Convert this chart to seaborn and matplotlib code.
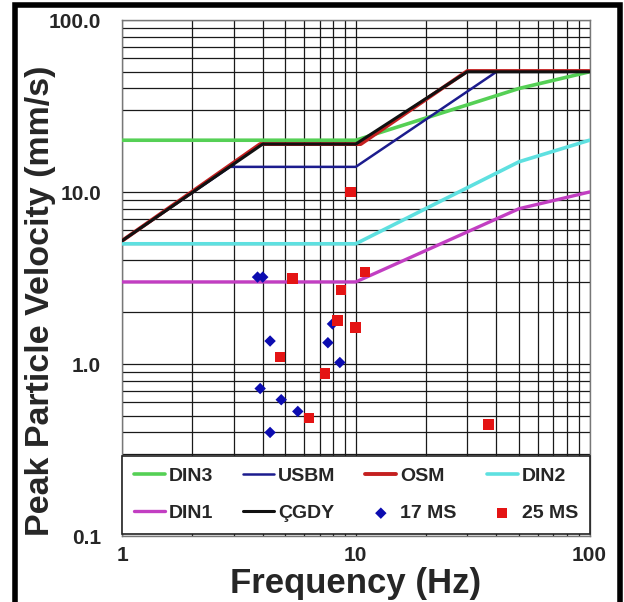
import numpy as np
import pandas as pd
import seaborn as sns
import matplotlib
matplotlib.use("Agg")
import matplotlib.pyplot as plt
from matplotlib.patches import Rectangle
from matplotlib.ticker import FixedLocator, LogLocator, NullFormatter

# limit curves (frequency Hz, PPV mm/s)
din3_f = [1, 10, 50, 100]
din3_v = [20, 20, 40, 50]
usbm_f = [1, 2.9, 10, 40, 100]
usbm_v = [5.2, 14, 14, 50, 50]
osm_f = [1, 3.9, 10.5, 30, 100]
osm_v = [5.2, 19, 19, 50.5, 50.5]
din2_f = [1, 10, 50, 100]
din2_v = [5, 5, 15, 20]
din1_f = [1, 10, 50, 100]
din1_v = [3, 3, 8, 10]
cgdy_f = [1, 4, 10, 30, 100]
cgdy_v = [5.2, 19, 19, 50, 50]

# measurements
ms17_f = [3.8, 4.0, 4.3, 7.95, 7.6, 8.55, 3.9, 4.8, 5.65, 4.3]
ms17_v = [3.2, 3.2, 1.36, 1.71, 1.33, 1.02, 0.72, 0.62, 0.53, 0.40]
ms25_f = [9.5, 10.95, 5.35, 8.65, 8.35, 9.95, 4.75, 7.4, 6.3, 37]
ms25_v = [10.0, 3.43, 3.15, 2.7, 1.79, 1.63, 1.1, 0.88, 0.485, 0.445]

sns.set_style("white")
plt.rcParams['font.family'] = ['Liberation Sans', 'DejaVu Sans']
plt.rcParams['font.weight'] = 'bold'

fig = plt.figure(figsize=(6.24, 6.02), dpi=100)
ax = fig.add_axes([122 / 624, 1 - 536 / 602, (589.5 - 122) / 624, (536 - 20) / 602])

ax.set_xscale('log')
ax.set_yscale('log')
ax.set_xlim(1, 100)
ax.set_ylim(0.1, 100)

lines = [
    ("DIN3", din3_f, din3_v, "#55d055", 2.6),
    ("USBM", usbm_f, usbm_v, "#1c1c8e", 1.8),
    ("OSM", osm_f, osm_v, "#c42020", 2.8),
    ("DIN2", din2_f, din2_v, "#5ee0e0", 2.6),
    ("DIN1", din1_f, din1_v, "#c23ec2", 2.4),
    ("ÇGDY", cgdy_f, cgdy_v, "#111111", 2.2),
]
for name, f, v, c, lw in lines:
    sns.lineplot(x=f, y=v, ax=ax, color=c, lw=lw, label=name, sort=False, zorder=3)

sns.scatterplot(x=ms17_f, y=ms17_v, ax=ax, marker="D", s=34, color="#0c0cb0",
                edgecolor="none", label="17 MS", zorder=4)
sns.scatterplot(x=ms25_f, y=ms25_v, ax=ax, marker="s", s=58, color="#e41414",
                edgecolor="none", label="25 MS", zorder=4)

# grid
ax.xaxis.set_minor_locator(LogLocator(base=10, subs=np.arange(2, 10)))
ax.yaxis.set_minor_locator(LogLocator(base=10, subs=np.arange(2, 10)))
ax.xaxis.set_minor_formatter(NullFormatter())
ax.yaxis.set_minor_formatter(NullFormatter())
ax.grid(True, which='both', color='#1a1a1a', lw=0.9)
ax.set_axisbelow(True)
for s in ax.spines.values():
    s.set_color('#777777')
    s.set_linewidth(1.0)

ax.xaxis.set_major_locator(FixedLocator([1, 10, 100]))
ax.set_xticklabels(["1", "10", "100"])
ax.yaxis.set_major_locator(FixedLocator([0.1, 1, 10, 100]))
ax.set_yticklabels(["0.1", "1.0", "10.0", "100.0"])
ax.tick_params(which='both', length=0)
ax.tick_params(axis='x', labelsize=15, pad=7)
ax.tick_params(axis='y', labelsize=15, pad=15)

ax.set_xlabel("Frequency (Hz)", fontsize=25, fontweight='bold')
ax.xaxis.set_label_coords(0.5, (536 - 593) / 516)
ax.xaxis.label.set_verticalalignment('baseline')

ax.set_ylabel("Peak Particle Velocity (mm/s)", fontsize=24.5, fontweight='bold')
ax.yaxis.set_label_coords((41 - 122) / 467.5, (536 - 301) / 516)
ax.yaxis.label.set_verticalalignment('center')

h, l = ax.get_legend_handles_labels()
d = dict(zip(l, h))
order = ["DIN3", "DIN1", "USBM", "ÇGDY", "OSM", "17 MS", "DIN2", "25 MS"]
leg = ax.legend([d[k] for k in order], order, ncol=4, loc="lower left",
                bbox_to_anchor=(0, 0.004, 1, 0.16), mode="expand",
                fontsize=14, frameon=True, fancybox=False, framealpha=1,
                edgecolor='#222222', handlelength=1.6, handletextpad=0.2,
                labelspacing=1.0, borderpad=0.6, columnspacing=0.8,
                markerscale=1.0, borderaxespad=0)
leg.get_frame().set_linewidth(1.2)
leg.set_zorder(10)

# thick black border of the picture
fig.patches.append(Rectangle((14.5 / 624, -0.05), (619.5 - 14.5) / 624, 1.05 - 5 / 602,
                             transform=fig.transFigure, fill=False, lw=4, ec='black'))

fig.savefig("out.png", dpi=100)
